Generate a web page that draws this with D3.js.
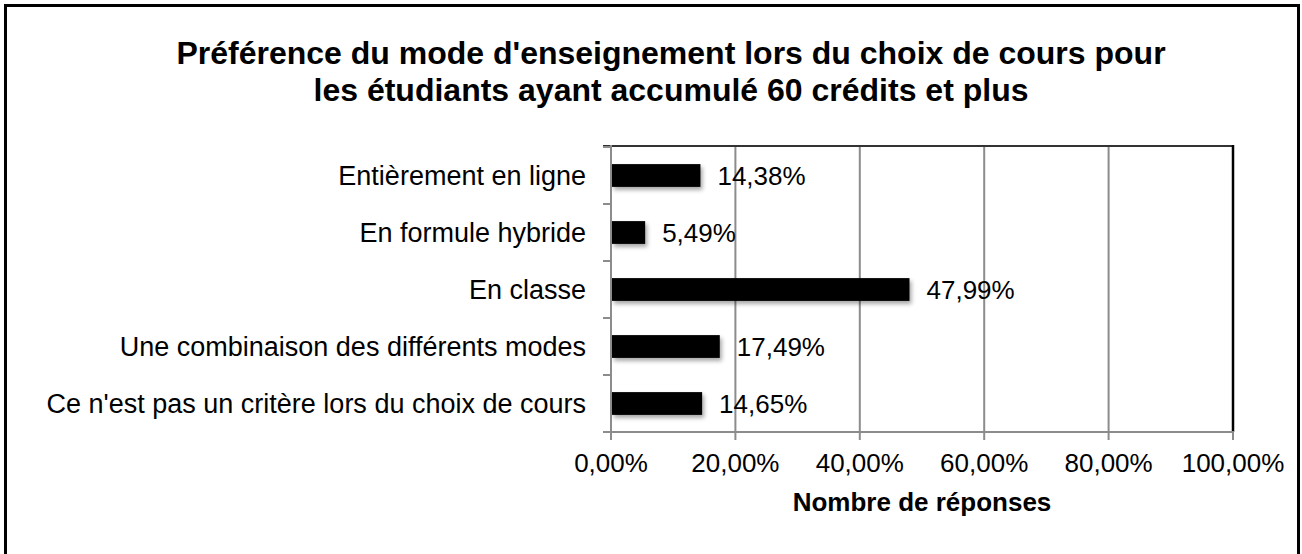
<!DOCTYPE html>
<meta charset="utf-8">
<script src="https://d3js.org/d3.v7.min.js"></script>
<style>
  body { margin: 0; background: #fff; }
  text { font-family: "Liberation Sans", Arial, sans-serif; fill: #000; }
</style>
<svg id="chart" width="1302" height="554"></svg>
<script>
// data
var categories = ["Entièrement en ligne", "En formule hybride", "En classe",
                  "Une combinaison des différents modes", "Ce n'est pas un critère lors du choix de cours"];
var values = [14.38, 5.49, 47.99, 17.49, 14.65];
var ticks = [0, 20, 40, 60, 80, 100];
var titleLines = ["Préférence du mode d'enseignement lors du choix de cours pour",
                  "les étudiants ayant accumulé 60 crédits et plus"];
var axisTitle = "Nombre de réponses";

var svg = d3.select("#chart");
var fmt = function(v) { return d3.format(".2f")(v).replace(".", ",") + "%"; };

// outer frame
svg.append("rect")
  .attr("x", 5.5).attr("y", 5.5)
  .attr("width", 1293).attr("height", 560)
  .attr("fill", "none").attr("stroke", "#000").attr("stroke-width", 3);

// title
svg.append("g").selectAll("text")
  .data(titleLines)
  .enter().append("text")
    .attr("x", 671)
    .attr("y", function(d, i) { return 64 + i * 37; })
    .attr("text-anchor", "middle")
    .style("font-size", "32px")
    .style("font-weight", "bold")
    .text(function(d) { return d; });

// scales
var pLeft = 611, pRight = 1233, pTop = 147, pBottom = 432;
var x = d3.scaleLinear().domain([0, 100]).range([pLeft, pRight]);
var y = d3.scaleBand().domain(categories).range([pTop, pBottom])
  .paddingInner(0.6).paddingOuter(0.3);

// shadow for bars
var defs = svg.append("defs");
defs.append("filter").attr("id", "shadow")
  .attr("x", "-10%").attr("y", "-30%").attr("width", "130%").attr("height", "190%")
  .append("feDropShadow")
    .attr("dx", 2).attr("dy", 3).attr("stdDeviation", 2)
    .attr("flood-color", "#000").attr("flood-opacity", 0.35);

// gridlines
svg.append("g").selectAll("line")
  .data(ticks.slice(1, -1))
  .enter().append("line")
    .attr("x1", function(d) { return x(d); }).attr("x2", function(d) { return x(d); })
    .attr("y1", pTop).attr("y2", pBottom)
    .attr("stroke", "#8c8c8c").attr("stroke-width", 2);

// top and right frame of the plot
svg.append("line")
  .attr("x1", pLeft - 8).attr("x2", pRight + 1)
  .attr("y1", pTop - 1).attr("y2", pTop - 1)
  .attr("stroke", "#333").attr("stroke-width", 2);
svg.append("line")
  .attr("x1", pRight).attr("x2", pRight)
  .attr("y1", pTop - 2).attr("y2", pBottom)
  .attr("stroke", "#000").attr("stroke-width", 2.5);

// bars
svg.append("g").selectAll("rect")
  .data(values)
  .enter().append("rect")
    .attr("x", x(0) + 1)
    .attr("y", function(d, i) { return y(categories[i]); })
    .attr("width", function(d) { return x(d) - x(0) - 1; })
    .attr("height", y.bandwidth())
    .attr("fill", "#000")
    .attr("filter", "url(#shadow)");

// value labels
svg.append("g").selectAll("text")
  .data(values)
  .enter().append("text")
    .attr("x", function(d) { return x(d) + 17; })
    .attr("y", function(d, i) { return y(categories[i]) + y.bandwidth() / 2; })
    .attr("dy", "0.35em")
    .style("font-size", "26px")
    .text(function(d) { return fmt(d); });

// y axis (category labels + ticks at band edges)
var yAxis = svg.append("g");
yAxis.append("line")
  .attr("x1", pLeft).attr("x2", pLeft)
  .attr("y1", pTop - 2).attr("y2", pBottom + 8)
  .attr("stroke", "#8c8c8c").attr("stroke-width", 2);
var edges = categories.map(function(c) { return y(c) - y.step() * y.paddingInner() / 2; });
edges.push(pBottom);
yAxis.selectAll(".tk")
  .data(edges)
  .enter().append("line")
    .attr("x1", pLeft - 8).attr("x2", pLeft)
    .attr("y1", function(d) { return d; }).attr("y2", function(d) { return d; })
    .attr("stroke", "#8c8c8c").attr("stroke-width", 2);
yAxis.selectAll("text")
  .data(categories)
  .enter().append("text")
    .attr("x", pLeft - 25)
    .attr("y", function(d) { return y(d) + y.bandwidth() / 2; })
    .attr("dy", "0.35em")
    .attr("text-anchor", "end")
    .style("font-size", "27px")
    .text(function(d) { return d; });

// x axis
var xAxis = svg.append("g");
xAxis.append("line")
  .attr("x1", pLeft - 8).attr("x2", pRight + 1)
  .attr("y1", pBottom).attr("y2", pBottom)
  .attr("stroke", "#8c8c8c").attr("stroke-width", 2);
xAxis.selectAll(".tk")
  .data(ticks)
  .enter().append("line")
    .attr("x1", function(d) { return x(d); }).attr("x2", function(d) { return x(d); })
    .attr("y1", pBottom).attr("y2", pBottom + 8)
    .attr("stroke", "#8c8c8c").attr("stroke-width", 2);
xAxis.selectAll("text")
  .data(ticks)
  .enter().append("text")
    .attr("x", function(d) { return x(d); })
    .attr("y", 472)
    .attr("text-anchor", "middle")
    .style("font-size", "26px")
    .text(function(d) { return fmt(d); });

svg.append("text")
  .attr("x", 922).attr("y", 511)
  .attr("text-anchor", "middle")
  .style("font-size", "26px")
  .style("font-weight", "bold")
  .text(axisTitle);
</script>
